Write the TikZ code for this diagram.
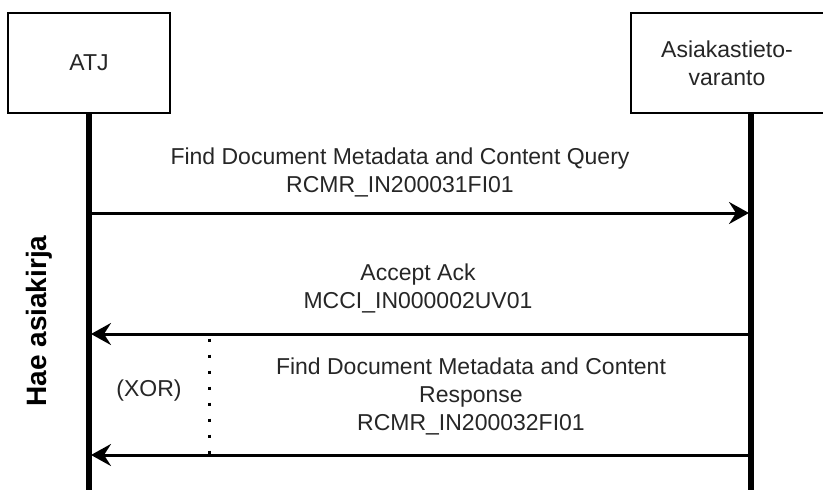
\documentclass[tikz,border=0pt]{standalone}
\usepackage{fontspec}
\setmainfont{Liberation Sans}
\usetikzlibrary{arrows.meta}
\begin{document}
\begin{tikzpicture}[x=1pt,y=-1pt,
  actor/.style={draw=black,line width=2pt,fill=white},
  life/.style={line width=6pt},
  msg/.style={line width=3pt,-{Stealth[length=20pt,width=22pt,inset=7pt]}},
  lbl/.style={font=\fontsize{23}{28}\selectfont,align=center,text=black!85},
]
\useasboundingbox (0,0) rectangle (823,490);
\begin{scope}
\clip (0,0) rectangle (823,490);
% lifelines
\coordinate (atjtop) at (89,113);
\coordinate (atjbot) at (89,492);
\coordinate (astop) at (751,113);
\coordinate (asbot) at (751,492);
\draw[life] (atjtop) -- (atjbot);
\draw[life] (astop) -- (asbot);
% actors
\draw[actor] (8,13) rectangle (170,113);
\node[lbl] (atj) at (89,63) {ATJ};
\draw[actor] (631,13) rectangle (840,113);
\node[lbl] (as) at (727,63) {Asiakastieto-\\varanto};
% messages
\coordinate (m1a) at (92,213);
\coordinate (m1b) at (749,213);
\draw[msg] (m1a) -- (m1b);
\node[lbl] (l1) at (400,172) {Find Document Metadata and Content Query\\RCMR\_IN200031FI01};
\coordinate (m2a) at (748,334);
\coordinate (m2b) at (91,334);
\draw[msg] (m2a) -- (m2b);
\node[lbl] (l2) at (418,288) {Accept Ack\\MCCI\_IN000002UV01};
\coordinate (m3a) at (748,455);
\coordinate (m3b) at (91,455);
\draw[msg] (m3a) -- (m3b);
\node[lbl] (l3) at (471,396) {Find Document Metadata and Content\\Response\\RCMR\_IN200032FI01};
% XOR
\coordinate (d1) at (209,338.5);
\coordinate (d2) at (209,456);
\draw[line width=3pt,dash pattern=on 3pt off 13pt] (d1) -- (d2);
\node[lbl] (xor) at (149,391) {(XOR)};
\node[font=\fontsize{28}{32}\bfseries\selectfont,rotate=90] (hae) at (39,321) {Hae asiakirja};
\end{scope}
\end{tikzpicture}
\end{document}
